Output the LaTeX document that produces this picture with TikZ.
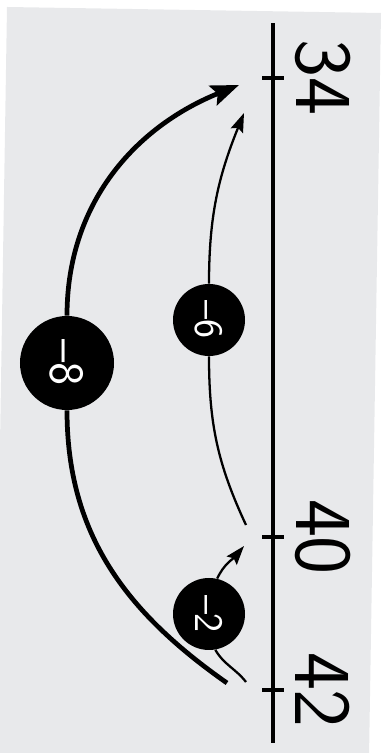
\documentclass[tikz,border=0pt]{standalone}
\usepackage{graphicx}
\usetikzlibrary{arrows.meta}
\definecolor{paper}{RGB}{232,233,235}
\newcommand{\turned}[1]{\rotatebox{-90}{#1}}

\begin{document}
\begin{tikzpicture}[x=0.2mm, y=0.2mm,
  jump/.style={circle, fill=black, text=white, inner sep=0pt, minimum size=14.4mm, font=\sffamily\fontsize{23}{23}\selectfont},
  bigjump/.style={jump, minimum size=18.8mm, font=\sffamily\fontsize{28}{28}\selectfont},
  numlabel/.style={rotate=-90, font=\sffamily\fontsize{46}{46}\selectfont},
  hop/.style={line width=1.3pt},
  bighop/.style={line width=2.7pt},
  hoptip/.style={-{Stealth[length=3.8mm,width=2.6mm,inset=0.6mm]}},
  bighoptip/.style={-{Stealth[length=5.6mm,width=4.2mm,inset=1mm]}}]
\useasboundingbox (0,0) rectangle (386,753);
\clip (0,0) rectangle (386,753);
\fill[paper] (7,746) -- (381,740) -- (369,-5) -- (-5,-5) -- cycle;
% number line
\draw[line width=2pt] (273,10) -- (273,730);
\foreach \v in {34,40,42}
{
\coordinate (t\v) at (273,{675-(\v-34)*76.5});
\draw[line width=1.8pt] (t\v) ++(-11,0) -- ++(22,0);
\path (t\v) ++(50,0) node[numlabel] (n\v) {\v};
}
% jumps
\node[bigjump] (c8) at (67,390) {\turned{--8}};
\node[jump] (c6) at (209,433) {\turned{--6}};
\node[jump] (c2) at (209,139) {\turned{--2}};
\coordinate (s8) at (227,70);
\coordinate (e8) at (239,668);
\coordinate (s6) at (246,228);
\coordinate (e6) at (244,640);
\coordinate (s2) at (246,71);
\coordinate (e2) at (244,207);
\draw[bighop] (s8) to[out=145,in=-90] (c8.south);
\draw[bighop, bighoptip] (c8.north) to[out=90,in=-158] (e8);
\draw[hop] (s6) to[out=115,in=-90] (c6.south);
\draw[hop, hoptip] (c6.north) to[out=90,in=-112] (e6);
\draw[hop] (s2) to[out=128,in=-60] (c2.-80);
\draw[hop, hoptip] (c2.77) to[out=65,in=-130] (e2);
\end{tikzpicture}
\end{document}
